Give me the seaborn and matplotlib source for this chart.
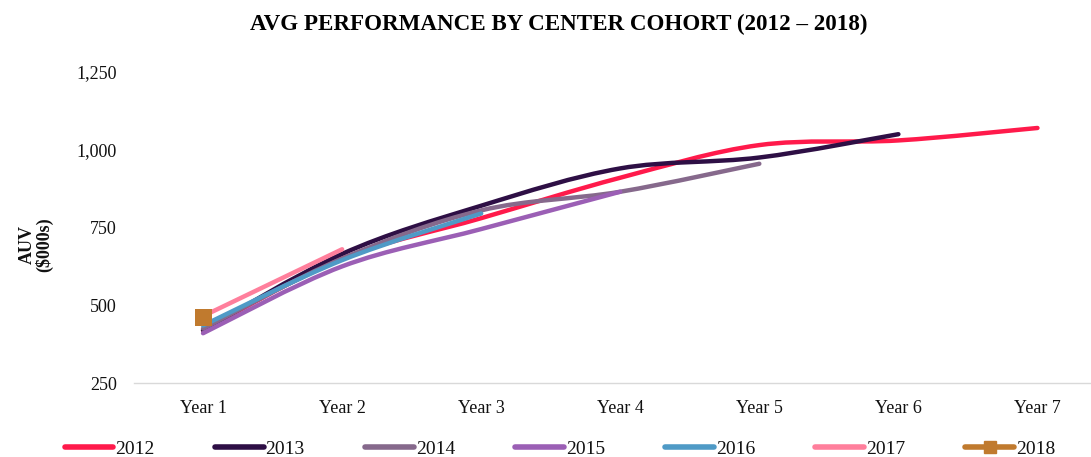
import numpy as np
import matplotlib
matplotlib.use("Agg")
import matplotlib.pyplot as plt
from matplotlib.path import Path
from matplotlib.patches import PathPatch
from matplotlib.lines import Line2D
import seaborn as sns

# datos (AUV en miles de $)
years = ["Year 1", "Year 2", "Year 3", "Year 4", "Year 5", "Year 6", "Year 7"]
cohorts = ["2012", "2013", "2014", "2015", "2016", "2017", "2018"]

auv_2012 = [420, 650, 780, 910, 1015, 1030, 1070]
auv_2013 = [420, 665, 820, 940, 975, 1050]
auv_2014 = [425, 650, 805, 865, 955]
auv_2015 = [410, 625, 745, 865]
auv_2016 = [435, 645, 795]
auv_2017 = [465, 680]
auv_2018 = [460]

colores = ["#FF1A4B", "#2E0F45", "#86698C", "#9B5FB5", "#4F9AC6", "#FF7F9C", "#C07A2E"]

series = [auv_2012, auv_2013, auv_2014, auv_2015, auv_2016, auv_2017, auv_2018]

sns.set_theme(style="white")
plt.rcParams['font.family'] = ['Liberation Serif', 'DejaVu Serif']
plt.rcParams['text.color'] = '#111111'
plt.rcParams['xtick.color'] = '#111111'
plt.rcParams['ytick.color'] = '#111111'


def curva_suave(xs, ys, k=1 / 6):
    """Bezier tipo Catmull-Rom, como las lineas suavizadas de Excel"""
    pts = np.column_stack([xs, ys]).astype(float)
    n = len(pts)
    verts = [pts[0]]
    codes = [Path.MOVETO]
    for i in range(n - 1):
        p0 = pts[max(i - 1, 0)]
        p1 = pts[i]
        p2 = pts[i + 1]
        p3 = pts[min(i + 2, n - 1)]
        c1 = p1 + (p2 - p0) * k
        c2 = p2 - (p3 - p1) * k
        verts += [c1, c2, p2]
        codes += [Path.CURVE4] * 3
    return Path(verts, codes)


fig = plt.figure(figsize=(10.91, 4.57), dpi=100)
ax = fig.add_axes([133.5 / 1091, 74 / 457, 973.5 / 1091, 311 / 457])

handles = []
for i, (nombre, vals, col) in enumerate(zip(cohorts, series, colores)):
    xs = np.arange(len(vals))
    if len(vals) > 1:
        patch = PathPatch(curva_suave(xs, vals), facecolor="none", edgecolor=col,
                          lw=3.2, capstyle="round", zorder=2 + i)
        ax.add_patch(patch)
        handles.append(Line2D([], [], color=col, lw=4))
    else:
        sns.scatterplot(x=xs, y=vals, ax=ax, marker="s", s=150, color=col,
                        edgecolor="none", zorder=2 + i, legend=False)
        handles.append(Line2D([], [], color=col, lw=4, marker="s", markersize=9))

ax.set_xlim(-0.5, 6.5)
ax.set_ylim(250, 1250)
ax.set_xticks(range(len(years)))
ax.set_xticklabels(years)
ax.set_yticks([250, 500, 750, 1000, 1250])
ax.set_yticklabels(["250", "500", "750", "1,000", "1,250"])
ax.tick_params(axis="x", length=0, pad=12, labelsize=13)
ax.tick_params(axis="y", length=0, pad=12, labelsize=13)
for s in ["top", "right", "left"]:
    ax.spines[s].set_visible(False)
ax.spines["bottom"].set_color("#d9d9d9")
ax.spines["bottom"].set_linewidth(1)
ax.set_xlabel("")
ax.set_ylabel("")

fig.text(36 / 1091, 1 - 245 / 457, "AUV\n($000s)", rotation=90, ha="center",
         va="center", fontsize=13, fontweight="bold", multialignment="center",
         linespacing=1.0)

fig.text(559 / 1091, 1 - 24 / 457, "AVG PERFORMANCE BY CENTER COHORT (2012 \u2013 2018)",
         ha="center", va="center", fontsize=16.6, fontweight="bold", color="black")

fig.legend(handles, cohorts, loc="center", bbox_to_anchor=(560 / 1091, 1 - 449 / 457),
           ncol=7, frameon=False, fontsize=14, handlelength=2.5, handletextpad=0.1,
           columnspacing=3.1, borderpad=0, borderaxespad=0)

fig.savefig("out.png", dpi=100)
